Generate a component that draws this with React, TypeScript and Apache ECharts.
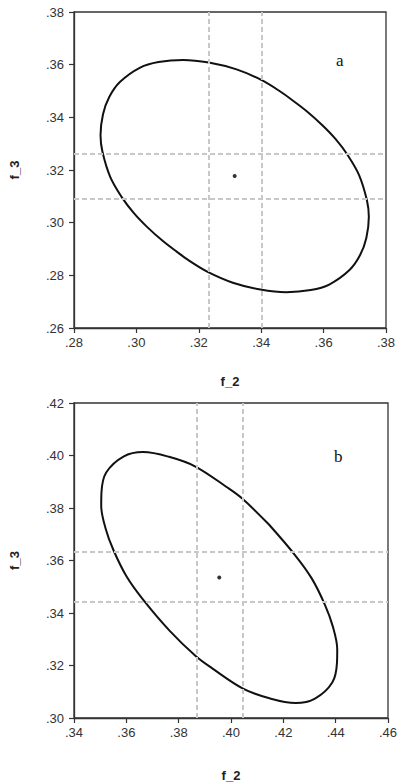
import React, { useEffect, useRef } from "react";
import * as echarts from "echarts";

// Panel a: confidence ellipse points (f_2, f_3), read clockwise
const ellipseAX = [0.3501, 0.3545, 0.3596, 0.3638, 0.3677, 0.3714, 0.3739, 0.3745, 0.3737, 0.3717, 0.3683, 0.3618, 0.3559, 0.348, 0.3398, 0.3309, 0.323, 0.317, 0.3129, 0.3085, 0.3034, 0.2992, 0.2953, 0.2916, 0.2891, 0.2885, 0.2893, 0.2913, 0.2947, 0.3012, 0.3071, 0.315, 0.3232, 0.3321, 0.34, 0.346, 0.3501];
const ellipseAY = [0.3464, 0.3424, 0.337, 0.3318, 0.3257, 0.318, 0.3084, 0.3022, 0.2942, 0.2877, 0.282, 0.2765, 0.2744, 0.2736, 0.2746, 0.2772, 0.2812, 0.2855, 0.289, 0.293, 0.2984, 0.3036, 0.3097, 0.3174, 0.327, 0.3332, 0.3412, 0.3477, 0.3534, 0.3589, 0.361, 0.3618, 0.3608, 0.3582, 0.3542, 0.3499, 0.3464];
const centerA = [0.3315, 0.3177];
const vLinesA = [0.3233, 0.3401];
const hLinesA = [0.3263, 0.3089];

// Panel b
const ellipseBX = [0.4145, 0.4246, 0.4309, 0.4359, 0.4389, 0.4406, 0.4405, 0.4387, 0.4321, 0.4247, 0.4147, 0.4046, 0.3927, 0.3866, 0.3765, 0.3664, 0.3601, 0.3551, 0.3521, 0.3504, 0.3505, 0.3523, 0.3589, 0.3664, 0.3763, 0.3864, 0.3983, 0.4044, 0.4145];
const ellipseBY = [0.3737, 0.3619, 0.3531, 0.3431, 0.3349, 0.3261, 0.321, 0.3135, 0.3074, 0.3057, 0.3075, 0.3112, 0.319, 0.3235, 0.3333, 0.3451, 0.3539, 0.3639, 0.3721, 0.3809, 0.386, 0.3935, 0.3996, 0.4013, 0.3995, 0.3958, 0.388, 0.3835, 0.3737];
const centerB = [0.3955, 0.3535];
const vLinesB = [0.3868, 0.4046];
const hLinesB = [0.3633, 0.3444];

const xRangeA = [0.28, 0.38];
const yRangeA = [0.26, 0.38];
const xRangeB = [0.34, 0.46];
const yRangeB = [0.30, 0.42];
const tickStep = 0.02;
const panelLabels = ["a", "b"];
const xName = "f_2";
const yName = "f_3";

const fmt = (v: number) => v.toFixed(2).replace(/^0/, "");
const sans = "'Liberation Sans', Arial, sans-serif";
const axisColor = "#333";

function xAxis(idx: number, range: number[], gap: number) {
  return {
    type: "value",
    gridIndex: idx,
    min: range[0],
    max: range[1],
    interval: tickStep,
    name: xName,
    nameLocation: "middle",
    nameGap: gap,
    nameTextStyle: { fontFamily: sans, fontSize: 13, fontWeight: "bold", color: "#222" },
    axisLine: { show: true, lineStyle: { color: axisColor, width: 1.3 } },
    axisTick: { show: true, inside: false, length: 5, lineStyle: { color: axisColor, width: 1.2 } },
    axisLabel: { formatter: fmt, fontFamily: sans, fontSize: 13, color: "#333", margin: 8, showMaxLabel: true, showMinLabel: true },
    splitLine: { show: false },
  };
}
function yAxis(idx: number, range: number[]) {
  return {
    type: "value",
    gridIndex: idx,
    min: range[0],
    max: range[1],
    interval: tickStep,
    name: yName,
    nameLocation: "middle",
    nameGap: 53,
    nameTextStyle: { fontFamily: sans, fontSize: 13, fontWeight: "bold", color: "#222" },
    axisLine: { show: true, lineStyle: { color: axisColor, width: 1.3 } },
    axisTick: { show: true, inside: false, length: 5, lineStyle: { color: axisColor, width: 1.2 } },
    axisLabel: { formatter: fmt, fontFamily: sans, fontSize: 13, color: "#333", margin: 10 },
    splitLine: { show: false },
  };
}

function panelSeries(idx: number, xs: number[], ys: number[], c: number[], vl: number[], hl: number[]) {
  return [
    {
      type: "scatter",
      xAxisIndex: idx,
      yAxisIndex: idx,
      z: 1,
      data: [c],
      symbol: "circle",
      symbolSize: 4,
      itemStyle: { color: "#000" },
      markLine: {
        silent: true,
        symbol: "none",
        precision: 5,
        label: { show: false },
        lineStyle: { color: "#c8c8c8", width: 2, type: [5, 3] },
        data: [...vl.map((v) => ({ xAxis: v })), ...hl.map((v) => ({ yAxis: v }))],
      },
    },
    {
      type: "line",
      xAxisIndex: idx,
      yAxisIndex: idx,
      z: 3,
      data: xs.map((x, i) => [x, ys[i]]),
      smooth: 0.35,
      showSymbol: false,
      symbol: "none",
      lineStyle: { color: "#111", width: 2 },
    },
  ];
}

export default function App() {
  const ref = useRef<HTMLDivElement>(null);
  useEffect(() => {
    document.body.style.margin = "0";
    const chart = echarts.init(ref.current!, null, { renderer: "svg" });
    chart.setOption({
      animation: false,
      backgroundColor: "#fff",
      grid: [
        { left: 71, top: 12, width: 315, height: 316, show: true, borderColor: axisColor, borderWidth: 1.3, backgroundColor: "transparent" },
        { left: 71, top: 403, width: 317, height: 318, show: true, borderColor: axisColor, borderWidth: 1.3, backgroundColor: "transparent" },
      ],
      xAxis: [xAxis(0, xRangeA, 47), xAxis(1, xRangeB, 51)],
      yAxis: [yAxis(0, yRangeA), yAxis(1, yRangeB)],
      series: [
        ...panelSeries(0, ellipseAX, ellipseAY, centerA, vLinesA, hLinesA),
        ...panelSeries(1, ellipseBX, ellipseBY, centerB, vLinesB, hLinesB),
      ],
      graphic: [
        { type: "text", left: 336, top: 52, style: { text: panelLabels[0], fontFamily: "'Liberation Serif', 'Times New Roman', serif", fontSize: 17, fill: "#111" } },
        { type: "text", left: 334, top: 448, style: { text: panelLabels[1], fontFamily: "'Liberation Serif', 'Times New Roman', serif", fontSize: 17, fill: "#111" } },
      ],
    });
    return () => chart.dispose();
  }, []);
  return <div ref={ref} style={{ position: "absolute", left: 0, top: 0, width: 401, height: 783 }} />;
}
